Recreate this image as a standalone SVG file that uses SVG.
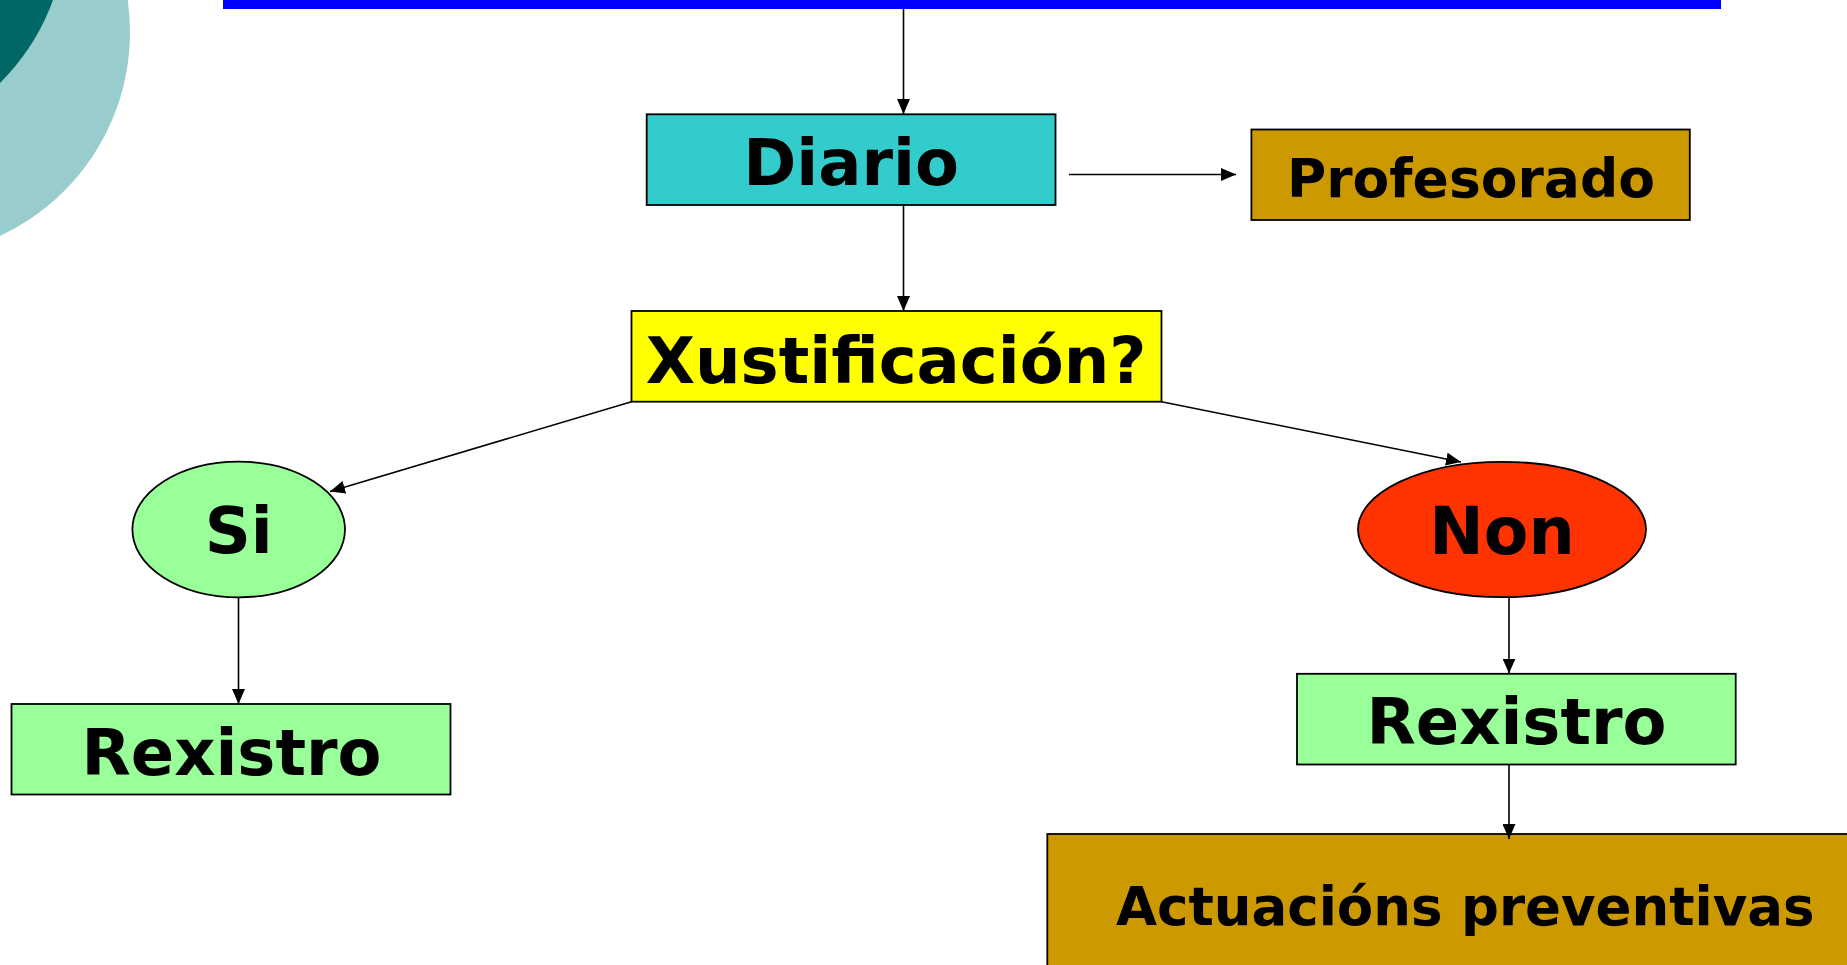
<svg xmlns="http://www.w3.org/2000/svg" width="1847" height="965" viewBox="0 0 1847 965">
<style>
.box{stroke:#000;stroke-width:1.8}
.lbl{font-family:"DejaVu Sans","Verdana",sans-serif;font-weight:bold;fill:#000;text-anchor:middle}
.conn{stroke:#000;stroke-width:1.6;fill:none;marker-end:url(#ah)}
</style>
<defs>
<marker id="ah" markerUnits="userSpaceOnUse" markerWidth="16" markerHeight="13" viewBox="0 0 16 13" refX="15" refY="6.5" orient="auto">
<path d="M0,0 L15,6.5 L0,13 z" fill="#000"/>
</marker>
</defs>
<rect width="1847" height="965" fill="#fff"/>
<g id="decor">
<circle cx="-95" cy="32" r="225" fill="#99CCCC"/>
<circle cx="-156" cy="-75" r="222" fill="#006666"/>
<rect x="223" y="0" width="1498" height="9" fill="#0000FF"/>
</g>
<g id="diario">
<rect class="box" x="646.7" y="114.3" width="408.8" height="90.7" fill="#33CCCC"/>
<text class="lbl" x="851" y="185" font-size="64">Diario</text>
</g>
<g id="profesorado">
<rect class="box" x="1251.4" y="129.5" width="438.4" height="90.5" fill="#CC9900"/>
<text class="lbl" x="1471" y="196.7" font-size="53.5">Profesorado</text>
</g>
<g id="xustificacion">
<rect class="box" x="631.5" y="311" width="530" height="90.7" fill="#FFFF00"/>
<text class="lbl" x="896" y="383" font-size="64">Xustificación?</text>
</g>
<g id="si">
<ellipse class="box" cx="238.7" cy="529.5" rx="106.3" ry="67.8" fill="#99FF99"/>
<text class="lbl" x="238.7" y="553.3" font-size="64">Si</text>
</g>
<g id="non">
<ellipse class="box" cx="1502" cy="529.5" rx="144" ry="67.7" fill="#FF3300"/>
<text class="lbl" x="1502" y="553.7" font-size="65">Non</text>
</g>
<g id="rexistro-si">
<rect class="box" x="11.5" y="704" width="439" height="90.5" fill="#99FF99"/>
<text class="lbl" x="231.5" y="775" font-size="64">Rexistro</text>
</g>
<g id="rexistro-non">
<rect class="box" x="1297" y="673.8" width="438.7" height="90.7" fill="#99FF99"/>
<text class="lbl" x="1516.5" y="744" font-size="64">Rexistro</text>
</g>
<g id="actuacions">
<rect class="box" x="1047.3" y="834" width="820" height="160" fill="#CC9900"/>
<text class="lbl" x="1116" y="924.5" font-size="53" style="text-anchor:start">Actuacións preventivas</text>
</g>
<g id="connectors">
<line class="conn" x1="903.5" y1="9" x2="903.5" y2="114"/>
<line class="conn" x1="1069" y1="174.5" x2="1236" y2="174.5"/>
<line class="conn" x1="903.5" y1="205" x2="903.5" y2="311"/>
<line class="conn" x1="631.5" y1="401.7" x2="330" y2="491.5"/>
<line class="conn" x1="1161.5" y1="401.7" x2="1461" y2="462"/>
<line class="conn" x1="238.5" y1="597.5" x2="238.5" y2="704"/>
<line class="conn" x1="1509" y1="597.5" x2="1509" y2="673.5"/>
<line class="conn" x1="1509" y1="764.5" x2="1509" y2="839"/>
</g>
</svg>
